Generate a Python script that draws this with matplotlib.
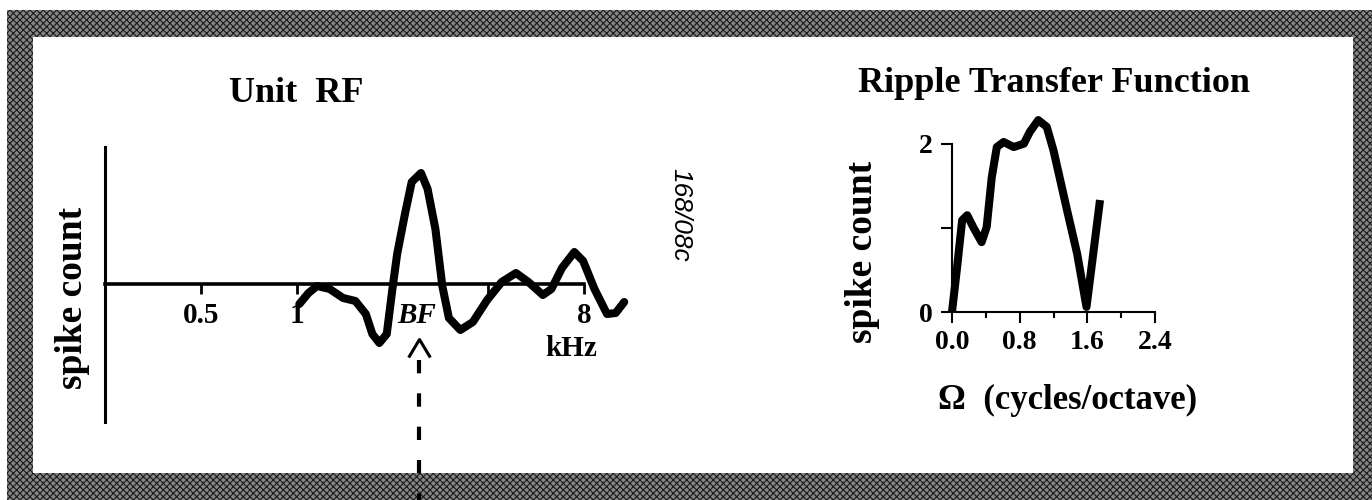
import numpy as np
import matplotlib
matplotlib.use("Agg")
import matplotlib.pyplot as plt
from matplotlib.patches import Rectangle
from matplotlib.path import Path
import matplotlib.transforms as mtransforms

# plotting options
plt.rcParams["font.family"] = "Liberation Serif"
plt.rcParams["font.weight"] = "bold"
plt.rcParams["hatch.linewidth"] = 0.8

# unit receptive field (frequency in kHz, spike count in arbitrary units)
rf_khz = [1.02, 1.09, 1.16, 1.27, 1.40, 1.53, 1.65, 1.73, 1.82, 1.92, 2.00, 2.07,
          2.19, 2.30, 2.46, 2.58, 2.73, 2.87, 3.01, 3.27, 3.58, 3.97, 4.41, 4.89,
          5.35, 5.94, 6.32, 6.82, 7.46, 7.95, 8.63, 9.45, 10.06, 10.70]
rf_count = [-0.20, -0.09, -0.02, -0.05, -0.14, -0.17, -0.30, -0.50, -0.59, -0.50,
            -0.05, 0.30, 0.70, 1.02, 1.11, 0.95, 0.55, -0.02, -0.34, -0.46, -0.38,
            -0.16, 0.02, 0.11, 0.02, -0.11, -0.05, 0.16, 0.32, 0.23, -0.05, -0.30,
            -0.29, -0.18]
rf_ticks = [0.5, 1, 2, 4, 8]
rf_ticklabels = ["0.5", "1", "", "", "8"]
BF_KHZ = 2.42

# ripple transfer function (cycles/octave vs spike count)
rtf_omega = [0.0, 0.06, 0.12, 0.18, 0.25, 0.35, 0.41, 0.47, 0.53, 0.61, 0.73,
             0.85, 0.92, 1.02, 1.12, 1.20, 1.36, 1.48, 1.59, 1.75]
rtf_count = [0.0, 0.53, 1.09, 1.15, 1.01, 0.83, 1.01, 1.60, 1.96, 2.02, 1.96,
             2.00, 2.14, 2.28, 2.20, 1.92, 1.21, 0.69, 0.06, 1.33]
rtf_major = [0.0, 0.8, 1.6, 2.4]
rtf_minor = [0.4, 1.2, 2.0]
rtf_yticks = [0, 1, 2]
rtf_yticklabels = ["0", "", "2"]

W, H = 1372, 500
fig = plt.figure(figsize=(W / 100, H / 100), dpi=100)

def px_axes(x0, y0, x1, y1):
    # axes rect from pixel box (y measured from the top)
    return [x0 / W, 1 - y1 / H, (x1 - x0) / W, (y1 - y0) / H]

# overlay in pixel coords for frame and free text
ov = fig.add_axes([0, 0, 1, 1])
ov.set_xlim(0, W)
ov.set_ylim(H, 0)
ov.axis("off")

# halftone frame
for x0, y0, w, h in [(7, 10, 1365, 27), (7, 473, 1365, 27), (7, 37, 26, 436), (1353, 37, 19, 436)]:
    ov.add_patch(Rectangle((x0, y0), w, h, facecolor="#858585", edgecolor="#1a1a1a",
                           hatch="xxxxx", linewidth=0))

ov.text(296, 93, "Unit  RF", fontsize=26, ha="center", va="center")
ov.text(1054, 83, "Ripple Transfer Function", fontsize=26, ha="center", va="center")
ov.text(73, 298, "spike count", fontsize=27, rotation=90, ha="center", va="center")
ov.text(862, 252, "spike count", fontsize=27, rotation=90, ha="center", va="center")
ov.text(1068, 400, "Ω  (cycles/octave)", fontsize=25, ha="center", va="center")
ov.text(571, 349, "kHz", fontsize=21, ha="center", va="center")
ov.text(680, 215, "168/08c", fontsize=19, rotation=-90, ha="center", va="center",
        family="Liberation Sans", style="italic", weight="normal")

# ---- unit RF ----
ax1 = fig.add_axes(px_axes(105, 147, 584, 422))
ax1.patch.set_alpha(0)
ax1.set_xscale("log", base=2)
ax1.set_xlim(0.25, 8)
ax1.set_ylim(-1.38, 1.37)
ax1.plot(rf_khz, rf_count, color="black", lw=5.8, solid_capstyle="round",
         solid_joinstyle="round", clip_on=False)
for s in ["top", "right"]:
    ax1.spines[s].set_visible(False)
ax1.spines["bottom"].set_position(("data", 0))
ax1.spines["left"].set_linewidth(2.2)
ax1.spines["bottom"].set_linewidth(2.6)
ax1.set_yticks([])
ax1.set_xticks(rf_ticks)
ax1.set_xticklabels(rf_ticklabels)
ax1.xaxis.set_minor_locator(matplotlib.ticker.NullLocator())
ax1.tick_params(axis="x", direction="out", length=7, width=2, labelsize=21, pad=6)

# BF label and dashed arrow
ax1.text(BF_KHZ * 0.985, -0.32, "BF", fontsize=21, style="italic", ha="center", va="center")
blend = mtransforms.blended_transform_factory(ax1.transData, ax1.transAxes)
ax1.plot([BF_KHZ, BF_KHZ], [0.225, -0.29], transform=blend, color="black", lw=3,
         linestyle=(0, (3.2, 4.8)), clip_on=False, zorder=5)
chevron = Path([(-0.6, -1), (0, 0), (0.6, -1)], [Path.MOVETO, Path.LINETO, Path.LINETO])
ax1.plot([BF_KHZ], [0.302], transform=blend, marker=chevron, markersize=26,
         markerfacecolor="none", markeredgecolor="black", markeredgewidth=2.2,
         clip_on=False, zorder=5)

# ---- ripple transfer function ----
ax2 = fig.add_axes(px_axes(952, 110, 1155, 312))
ax2.patch.set_alpha(0)
ax2.set_xlim(0, 2.4)
ax2.set_ylim(0, 2.4)
ax2.plot(rtf_omega, rtf_count, color="black", lw=5.8, solid_capstyle="butt",
         solid_joinstyle="round", clip_on=False)
for s in ["top", "right"]:
    ax2.spines[s].set_visible(False)
ax2.spines["left"].set_bounds(0, 2)
ax2.spines["left"].set_linewidth(1.5)
ax2.spines["bottom"].set_linewidth(1.5)
ax2.set_xticks(rtf_major)
ax2.set_xticklabels([f"{v:.1f}" for v in rtf_major])
ax2.set_xticks(rtf_minor, minor=True)
ax2.set_yticks(rtf_yticks)
ax2.set_yticklabels(rtf_yticklabels)
ax2.tick_params(axis="x", which="major", direction="out", length=8, width=1.5, labelsize=20, pad=5)
ax2.tick_params(axis="x", which="minor", direction="out", length=4, width=1.5)
ax2.tick_params(axis="y", direction="out", length=8, width=1.5, labelsize=20, pad=6)

fig.savefig("out.png", dpi=100)
